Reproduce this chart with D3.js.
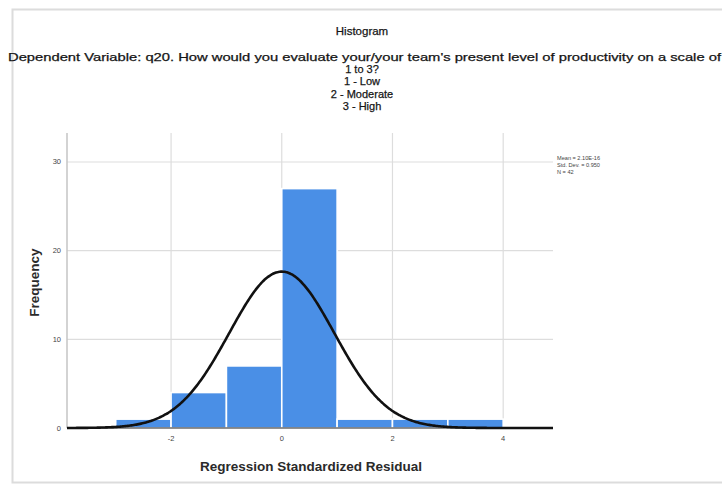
<!DOCTYPE html>
<html>
<head>
<meta charset="utf-8">
<script src="https://cdn.jsdelivr.net/npm/d3@7"></script>
<style>
  html, body { margin: 0; padding: 0; background: #fff; }
  svg { display: block; font-family: "Liberation Sans", Arial, sans-serif; }
</style>
</head>
<body>
<svg id="chart" width="722" height="486"></svg>
<script>
// Histogram of regression standardized residuals (bin width 1)
const binStarts = [-3, -2, -1, 0, 1, 2, 3];
const binCounts = [1, 4, 7, 27, 1, 1, 1];
const xTicks = [-2, 0, 2, 4];
const yTicks = [0, 10, 20, 30];
const stats = { mean: 2.10e-16, sd: 0.950, n: 42 };
const statLines = ["Mean = 2.10E-16", "Std. Dev. = 0.950", "N = 42"];
const titleLines = ["Histogram"];
const subtitleLines = [
  "Dependent Variable: q20. How would you evaluate your/your team's present level of productivity on a scale of",
  "1 to 3?",
  "1 - Low",
  "2 - Moderate",
  "3 - High"
];

const svg = d3.select("#chart");
const plot = { left: 67, right: 553, top: 133, bottom: 428 };

const x = d3.scaleLinear().domain([-3.88, 4.90]).range([plot.left, plot.right]);
const y = d3.scaleLinear().domain([0, 33.27]).range([plot.bottom, plot.top]);

// outer frame
svg.append("rect")
  .attr("x", 12.5).attr("y", 9.5).attr("width", 740).attr("height", 473)
  .attr("fill", "none").attr("stroke", "#dcdcdc").attr("stroke-width", 2);

// titles
const titleStyle = sel => sel.attr("fill", "#151515").attr("stroke", "#151515").attr("stroke-width", 0.25);
svg.append("text").attr("x", 362).attr("y", 35)
  .attr("text-anchor", "middle").attr("font-size", 11.5)
  .call(titleStyle)
  .text(titleLines[0]);

svg.append("text").attr("x", 8).attr("y", 61)
  .attr("font-size", 11)
  .attr("textLength", 713).attr("lengthAdjust", "spacingAndGlyphs")
  .call(titleStyle)
  .text(subtitleLines[0]);
subtitleLines.slice(1).forEach((t, i) => {
  svg.append("text").attr("x", 362).attr("y", 73 + i * 12.3)
    .attr("text-anchor", "middle").attr("font-size", 11)
    .call(titleStyle)
    .text(t);
});

// gridlines
const g = svg.append("g");
g.selectAll(".hgrid").data(yTicks.filter(d => d > 0)).join("line")
  .attr("x1", plot.left).attr("x2", plot.right)
  .attr("y1", d => y(d)).attr("y2", d => y(d))
  .attr("stroke", "#dddddd").attr("stroke-width", 1.2);
g.selectAll(".vgrid").data(xTicks).join("line")
  .attr("x1", d => x(d)).attr("x2", d => x(d))
  .attr("y1", plot.top).attr("y2", plot.bottom)
  .attr("stroke", "#dddddd").attr("stroke-width", 1.2);

// left axis line
svg.append("line").attr("x1", plot.left).attr("x2", plot.left)
  .attr("y1", plot.top).attr("y2", plot.bottom)
  .attr("stroke", "#c4c4c4").attr("stroke-width", 1.5);

// bars
svg.append("g").selectAll("rect").data(binStarts).join("rect")
  .attr("x", d => x(d))
  .attr("width", d => x(d + 1) - x(d))
  .attr("y", (d, i) => y(binCounts[i]))
  .attr("height", (d, i) => y(0) - y(binCounts[i]))
  .attr("fill", "#4a8fe6")
  .attr("stroke", "#ffffff").attr("stroke-width", 1.6);

// bottom axis baseline
svg.append("line").attr("x1", plot.left).attr("x2", plot.right)
  .attr("y1", plot.bottom).attr("y2", plot.bottom)
  .attr("stroke", "#222").attr("stroke-width", 1.2);

// normal curve scaled to counts (bin width 1)
const pdf = v => stats.n * 1 / (stats.sd * Math.sqrt(2 * Math.PI)) *
  Math.exp(-0.5 * Math.pow((v - stats.mean) / stats.sd, 2));
const curvePts = d3.range(0, 401).map(i => {
  const v = x.domain()[0] + (x.domain()[1] - x.domain()[0]) * i / 400;
  return [v, pdf(v)];
});
svg.append("path").datum(curvePts)
  .attr("d", d3.line().x(d => x(d[0])).y(d => y(d[1])).curve(d3.curveBasis))
  .attr("fill", "none").attr("stroke", "#111").attr("stroke-width", 2.6);

// tick labels
svg.append("g").selectAll("text").data(yTicks).join("text")
  .attr("x", plot.left - 6).attr("y", d => y(d) + 2.5)
  .attr("text-anchor", "end").attr("font-size", 7.5).attr("fill", "#444")
  .text(d => d);
svg.append("g").selectAll("text").data(xTicks).join("text")
  .attr("x", d => x(d)).attr("y", plot.bottom + 13)
  .attr("text-anchor", "middle").attr("font-size", 7.5).attr("fill", "#444")
  .text(d => d);

// axis titles
svg.append("text")
  .attr("transform", "translate(39," + ((plot.top + plot.bottom) / 2 + 2) + ") rotate(-90)")
  .attr("text-anchor", "middle").attr("font-size", 13.5).attr("font-weight", "bold").attr("fill", "#2a2a2a")
  .text("Frequency");
svg.append("text").attr("x", 311).attr("y", 471)
  .attr("text-anchor", "middle").attr("font-size", 13.5).attr("font-weight", "bold").attr("fill", "#2a2a2a")
  .text("Regression Standardized Residual");

// summary statistics
svg.append("g").selectAll("text").data(statLines).join("text")
  .attr("x", 557).attr("y", (d, i) => 160 + i * 6.8)
  .attr("font-size", 5.6).attr("fill", "#444")
  .text(d => d);
</script>
</body>
</html>
